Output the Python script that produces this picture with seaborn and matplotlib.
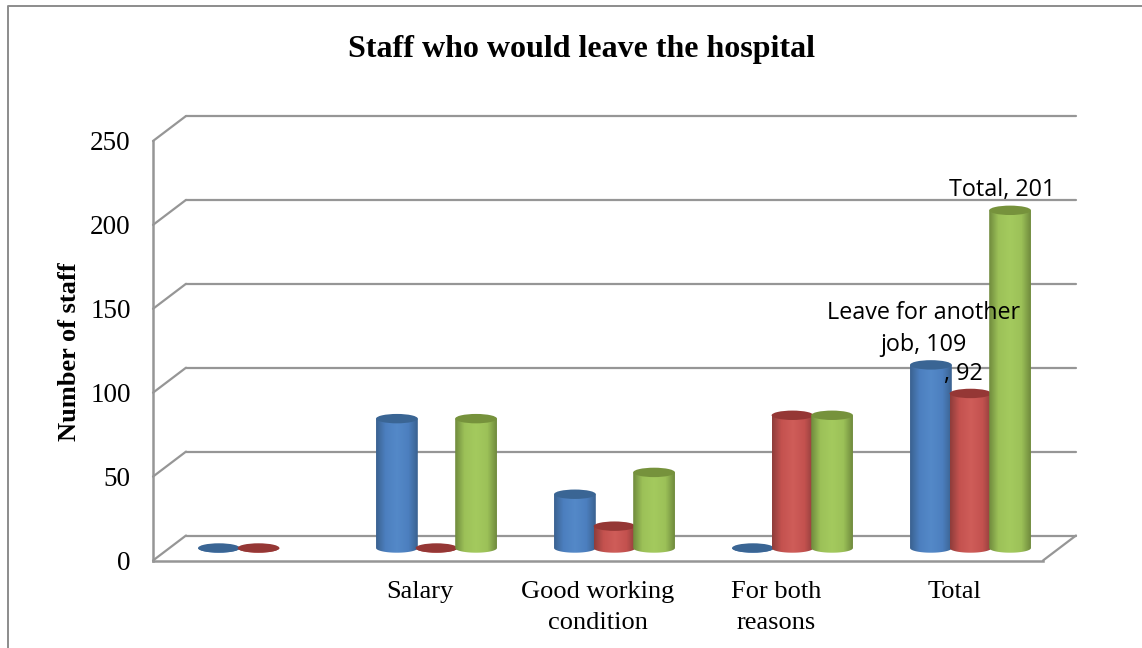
import numpy as np
import pandas as pd
import matplotlib
matplotlib.use("Agg")
import matplotlib.pyplot as plt
from matplotlib.lines import Line2D
from matplotlib.patches import Ellipse, PathPatch
from matplotlib.path import Path
from matplotlib.colors import LinearSegmentedColormap
import seaborn as sns

categories = ["", "Salary", "Good working\ncondition", "For both\nreasons", "Total"]
series_names = ["Leave for another job", " ", "Total"]
leave_for_job = [0, 77, 32, 0, 109]
unnamed_series = [0, 0, 13, 79, 92]
total_series = [np.nan, 77, 45, 79, 201]
y_ticks = [0, 50, 100, 150, 200, 250]

W, H = 1142, 648
GRID = "#969696"
sns.set_theme(style="white")
plt.rcParams["font.family"] = ["Liberation Serif", "DejaVu Serif"]

fig = plt.figure(figsize=(W / 100, H / 100), dpi=100, facecolor="white")


def px_axes(l, r, t, b, z):
    ax = fig.add_axes([l / W, 1 - b / H, (r - l) / W, (b - t) / H], zorder=z)
    ax.patch.set_alpha(0)
    ax.set_xlim(-0.5, 4.5)
    ax.set_ylim(0, 250)
    return ax


ax_back = px_axes(186, 1076, 115.5, 535.5, 0)
ax_front = px_axes(153, 1043, 141, 560.5, 1)
ax_bar = px_axes(169.5, 1059.5, 128, 548, 2)

# back wall
ax_back.set_xticks([])
ax_back.set_yticks(y_ticks)
ax_back.tick_params(left=False, labelleft=False)
ax_back.grid(axis="y", color=GRID, lw=1.6)
ax_back.set_axisbelow(False)
for s in ax_back.spines.values():
    s.set_visible(False)
for g in ax_back.get_ygridlines():
    g.set_clip_on(False)

# front frame, ticks and labels
ax_front.set_xticks(range(len(categories)))
ax_front.set_xticklabels(categories, fontsize=19, color="black", linespacing=1.49)
ax_front.set_yticks(y_ticks)
ax_front.tick_params(axis="y", length=0, pad=16, labelsize=19.5, labelcolor="black")
ax_front.tick_params(axis="x", length=0, pad=15)
for name, s in ax_front.spines.items():
    s.set_visible(name in ("left", "bottom"))
    s.set_color(GRID)
    s.set_linewidth(1.8)
ax_front.set_ylabel("Number of staff", fontsize=19, fontweight="bold", color="black")
ax_front.yaxis.set_label_coords((81 - 153) / 890, (560.5 - 352) / 419.5)

# depth connectors
dx = 5 * 33 / 890
dy = 250 * 25 / 419.5
for v in y_ticks:
    ax_front.plot([-0.5, -0.5 + dx], [v, v + dy], color=GRID, lw=1.6, clip_on=False,
                  solid_capstyle="round")
ax_front.plot([4.5, 4.5 + dx], [0, dy], color=GRID, lw=1.6, clip_on=False,
              solid_capstyle="round")
ax_front.set_xlim(-0.5, 4.5)
ax_front.set_ylim(0, 250)

# bars
df = pd.DataFrame({
    "category": categories * 3,
    "series": np.repeat(series_names, len(categories)),
    "value": leave_for_job + unnamed_series + total_series,
})
sns.barplot(data=df, x="category", y="value", hue="series", order=categories,
            hue_order=series_names, width=0.667, gap=0, errorbar=None, legend=False,
            palette=["#4F81BD", "#C0504D", "#9BBB59"], ax=ax_bar)
ax_bar.set_xlim(-0.5, 4.5)
ax_bar.set_ylim(0, 250)
ax_bar.axis("off")

shades = [
    ("#3A6291", "#4C7FBF", "#5489C8", "#3A6594"),
    ("#8F3D3B", "#C4524F", "#CF5D59", "#953735"),
    ("#708B3D", "#9CC158", "#A4CA5E", "#76923C"),
]
CAP_H = 5.6
WIDEN = 1.055
theta = np.linspace(np.pi, 2 * np.pi, 40)
for c_i, cont in enumerate(ax_bar.containers):
    dark, mid, light, top = shades[c_i]
    cmap = LinearSegmentedColormap.from_list(
        f"cyl{c_i}", [(0, dark), (.22, mid), (.5, light), (.78, mid), (1, dark)])
    z = 3 + c_i * 2
    for bar in cont:
        h = bar.get_height()
        bar.set_visible(False)
        if not np.isfinite(h):
            continue
        cx = bar.get_x() + bar.get_width() / 2
        w = bar.get_width() * WIDEN
        left, right = cx - w / 2, cx + w / 2
        verts = [(left, h)]
        verts += [(cx + w / 2 * np.cos(t), CAP_H / 2 * np.sin(t)) for t in theta]
        verts += [(right, h), (left, h)]
        codes = [Path.MOVETO] + [Path.LINETO] * (len(verts) - 2) + [Path.CLOSEPOLY]
        clip = PathPatch(Path(verts, codes), transform=ax_bar.transData, fc="none", ec="none",
                         clip_on=False)
        ax_bar.add_patch(clip)
        img = ax_bar.imshow(np.linspace(0, 1, 64)[None, :], cmap=cmap, aspect="auto",
                            extent=[left, right, -CAP_H, h + CAP_H], zorder=z,
                            interpolation="bilinear")
        img.set_clip_box(fig.bbox)
        img.set_clip_path(clip)
        ax_bar.add_patch(Ellipse((cx, h), w, CAP_H, fc=top, ec="none", zorder=z + 1,
                                 clip_on=False))
ax_bar.set_xlim(-0.5, 4.5)
ax_bar.set_ylim(0, 250)


def last_bar_x(c):
    b = ax_bar.containers[c][-1]
    return b.get_x() + b.get_width() / 2


# data labels
label_font = ["Open Sans", "DejaVu Sans"]
for c_i, val, txt, off in [
    (0, leave_for_job[4], f"Leave for another\njob, {leave_for_job[4]}", (-7, 36)),
    (1, unnamed_series[4], f", {unnamed_series[4]}", (-7, 19)),
    (2, total_series[4], f"{series_names[2]}, {total_series[4]:.0f}", (-8, 20)),
]:
    ax_bar.annotate(txt, (last_bar_x(c_i), val), xytext=off, textcoords="offset pixels",
                    ha="center", va="center", fontsize=16.8, family=label_font,
                    color="black", zorder=20, linespacing=1.47, annotation_clip=False)

fig.text(581 / W, 1 - 49 / H, "Staff who would leave the hospital", ha="center", va="center",
         fontsize=23, fontweight="bold", color="black")

# outer border: left and top only, running off the page edges
fr = "#8C8C8C"
fig.add_artist(Line2D([8 / W, 8 / W, 1], [0, 1 - 6 / H, 1 - 6 / H],
                      color=fr, lw=1.4, transform=fig.transFigure))

fig.savefig("out.png", dpi=100, facecolor="white")
